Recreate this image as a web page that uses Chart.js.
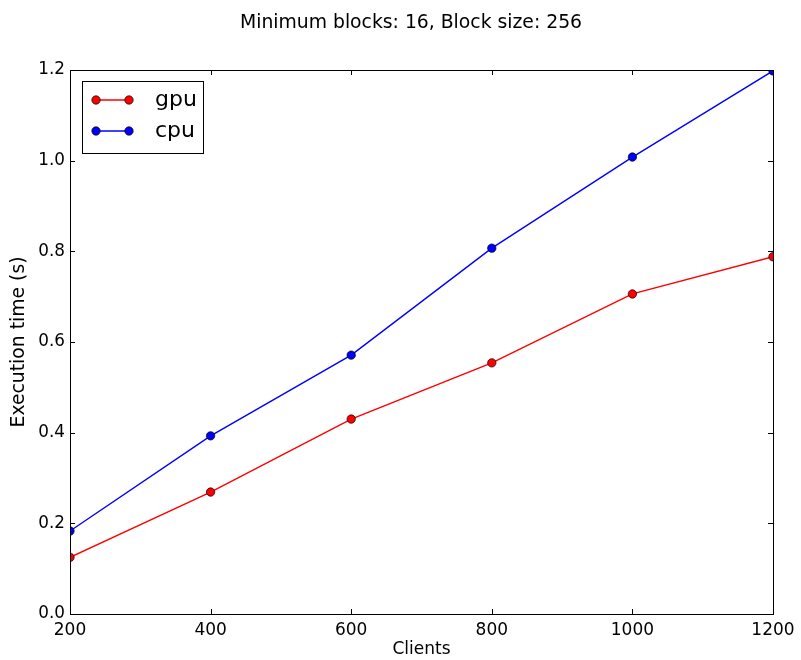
<!DOCTYPE html>
<html>
<head>
<meta charset="utf-8">
<script src="https://cdn.jsdelivr.net/npm/chart.js@4/dist/chart.umd.min.js"></script>
<style>
  html, body { margin: 0; padding: 0; background: #fff; }
  #wrap { width: 801px; height: 660px; }
</style>
</head>
<body>
<div id="wrap"><canvas id="timing" width="801" height="660"></canvas></div>
<script>
// values
const clients = [200, 400, 600, 800, 1000, 1200];
const gpuTimes = [0.125, 0.269, 0.430, 0.554, 0.706, 0.788];
const cpuTimes = [0.183, 0.393, 0.571, 0.807, 1.008, 1.198];
const xTicks = [200, 400, 600, 800, 1000, 1200];
const yTicks = [0.0, 0.2, 0.4, 0.6, 0.8, 1.0, 1.2];
const titleText = 'Minimum blocks: 16, Block size: 256';

const FONT = 'DejaVu Sans';

// matplotlib-like frame with ticks pointing inwards + title + boxed legend
const framePlugin = {
    id: 'frame',
    afterDraw(chart) {
        const ctx = chart.ctx;
        const a = chart.chartArea;
        const xs = chart.scales.x, ys = chart.scales.y;
        const len = 5;
        ctx.save();
        ctx.strokeStyle = '#000';
        ctx.lineWidth = 1;
        ctx.beginPath();
        xTicks.forEach(v => {
            const px = Math.round(xs.getPixelForValue(v)) + 0.5;
            ctx.moveTo(px, a.bottom); ctx.lineTo(px, a.bottom - len);
            ctx.moveTo(px, a.top); ctx.lineTo(px, a.top + len);
        });
        yTicks.forEach(v => {
            const py = Math.round(ys.getPixelForValue(v)) + 0.5;
            ctx.moveTo(a.left, py); ctx.lineTo(a.left + len, py);
            ctx.moveTo(a.right, py); ctx.lineTo(a.right - len, py);
        });
        ctx.stroke();
        ctx.strokeRect(Math.round(a.left) + 0.5, Math.round(a.top) + 0.5,
            Math.round(a.right - a.left), Math.round(a.bottom - a.top));

        // title
        ctx.fillStyle = '#000';
        ctx.font = '18.8px "' + FONT + '"';
        ctx.textAlign = 'center';
        ctx.textBaseline = 'middle';
        ctx.fillText(titleText, 411, 23);

        // legend box in upper-left corner
        const bx = 82.5, by = 81.5, bw = 121, bh = 72;
        ctx.fillStyle = '#fff';
        ctx.fillRect(bx, by, bw, bh);
        ctx.strokeRect(bx, by, bw, bh);
        ctx.font = '22px "' + FONT + '"';
        ctx.textAlign = 'left';
        chart.data.datasets.forEach((ds, i) => {
            const y = 100 + i * 31;
            ctx.strokeStyle = ds.borderColor;
            ctx.lineWidth = 1.4;
            ctx.beginPath();
            ctx.moveTo(96, y); ctx.lineTo(129, y);
            ctx.stroke();
            [96, 129].forEach(cx => {
                ctx.beginPath();
                ctx.arc(cx, y, 4.2, 0, Math.PI * 2);
                ctx.fillStyle = ds.pointBackgroundColor;
                ctx.fill();
                ctx.lineWidth = 0.7;
                ctx.strokeStyle = '#000';
                ctx.stroke();
            });
            ctx.fillStyle = '#000';
            ctx.fillText(ds.label, 155, y);
        });
        ctx.restore();
    }
};

function series(label, data, color) {
    return {
        label: label,
        data: clients.map((c, i) => ({ x: c, y: data[i] })),
        borderColor: color,
        backgroundColor: color,
        borderWidth: 1.4,
        pointBackgroundColor: color,
        pointBorderColor: '#000',
        pointBorderWidth: 0.7,
        pointRadius: 4.2,
        tension: 0,
        clip: 0
    };
}

new Chart(document.getElementById('timing'), {
    type: 'line',
    data: {
        datasets: [
            series('gpu', gpuTimes, '#ff0000'),
            series('cpu', cpuTimes, '#0000ff')
        ]
    },
    plugins: [framePlugin],
    options: {
        responsive: false,
        animation: false,
        layout: { padding: { top: 70, right: 28, left: 0, bottom: 0 } },
        plugins: {
            legend: { display: false },
            title: { display: false },
            tooltip: { enabled: false }
        },
        scales: {
            x: {
                type: 'linear',
                min: 200,
                max: 1200,
                afterBuildTicks: s => { s.ticks = xTicks.map(v => ({ value: v })); },
                afterFit: s => { s.height = 46; },
                grid: { display: false, drawTicks: false },
                border: { display: false },
                ticks: {
                    color: '#000',
                    padding: 6,
                    font: { family: FONT, size: 17 },
                    maxRotation: 0,
                    callback: v => String(v)
                },
                title: {
                    display: true,
                    text: 'Clients',
                    color: '#000',
                    padding: { top: 0, bottom: 0 },
                    font: { family: FONT, size: 17 }
                }
            },
            y: {
                min: 0,
                max: 1.2,
                afterBuildTicks: s => { s.ticks = yTicks.map(v => ({ value: v })); },
                afterFit: s => { s.width = 70; },
                grid: { display: false, drawTicks: false },
                border: { display: false },
                ticks: {
                    color: '#000',
                    padding: 5,
                    font: { family: FONT, size: 16.8 },
                    callback: v => v.toFixed(1)
                },
                title: {
                    display: true,
                    text: 'Execution time (s)',
                    color: '#000',
                    padding: { top: 8, bottom: 0 },
                    font: { family: FONT, size: 18.8 }
                }
            }
        }
    }
});
</script>
</body>
</html>
